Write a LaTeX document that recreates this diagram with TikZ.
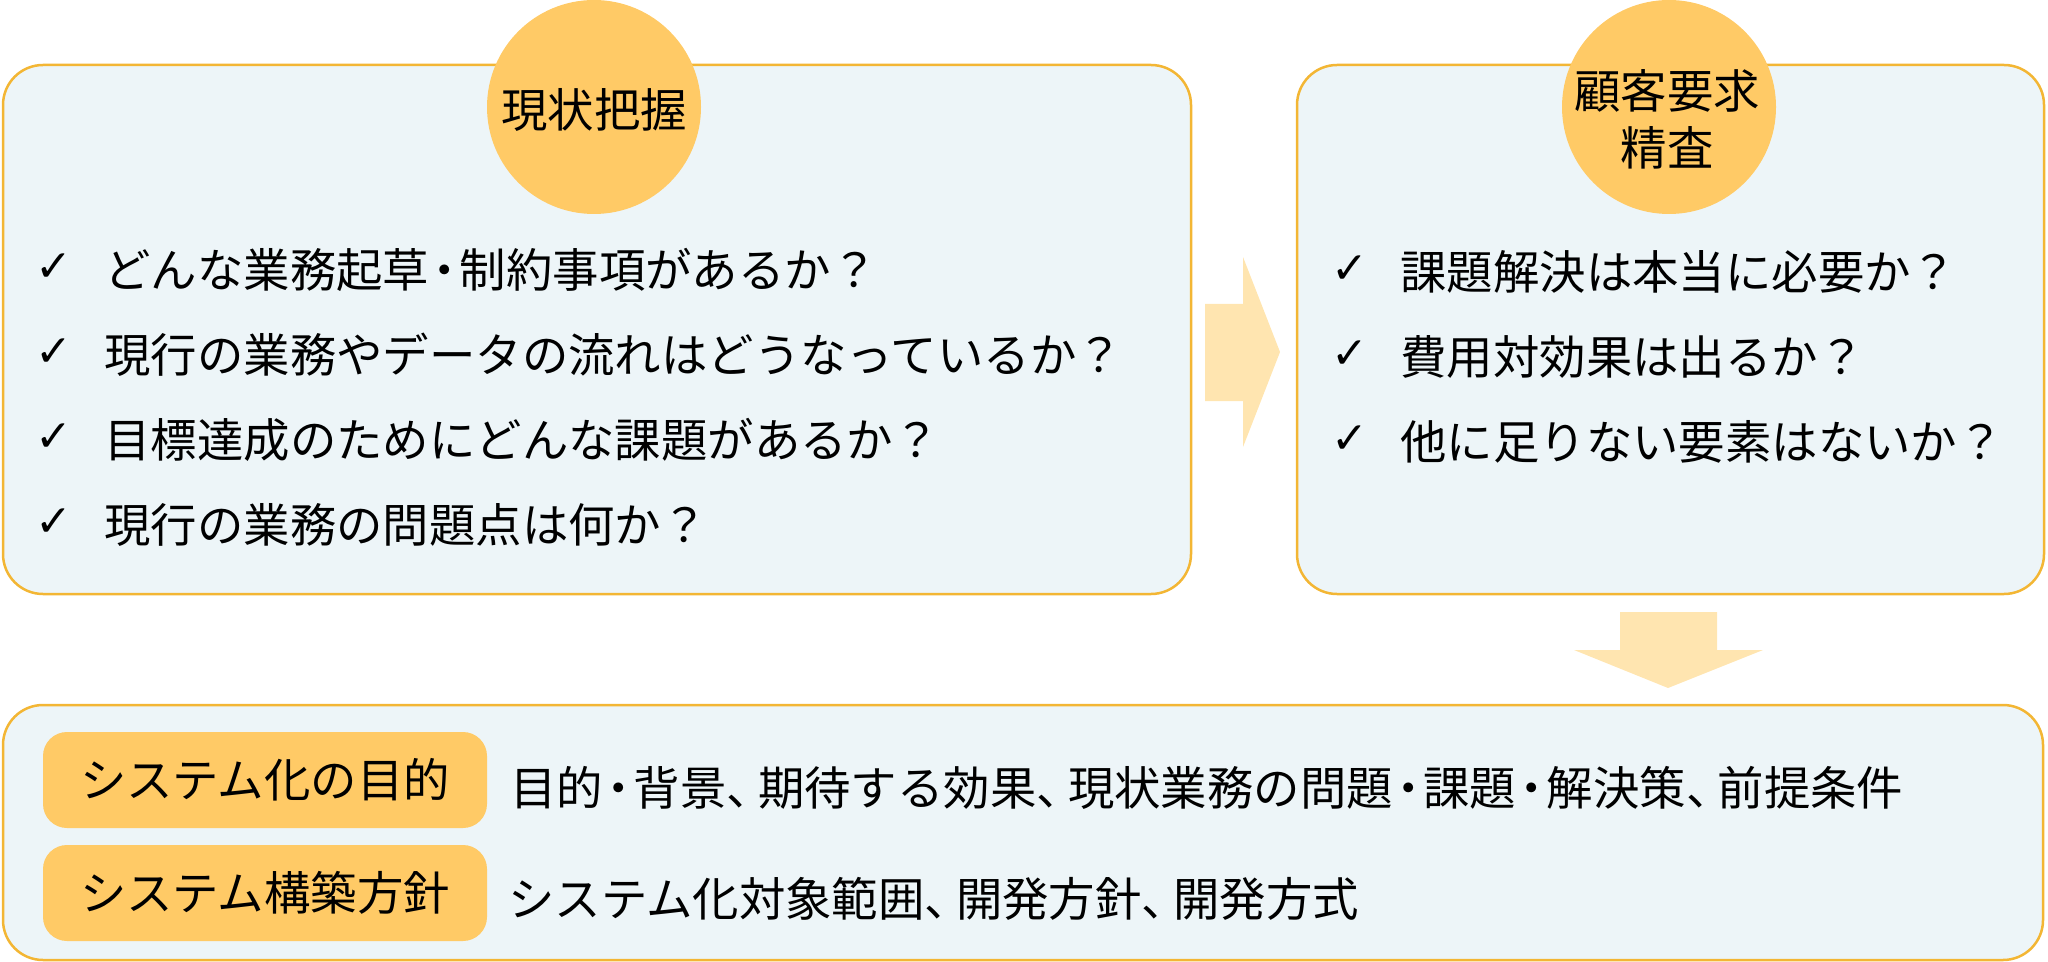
\documentclass[tikz,border=0pt]{standalone}
\usepackage{fontspec}
\setmainfont{Noto Sans CJK JP}
\newfontfamily\chk{DejaVu Sans}
\newcommand\mdot{\kern-0.17em・\kern-0.17em}
\newcommand\tcm{、\kern-0.32em}
\definecolor{panelc}{RGB}{237,245,248}
\definecolor{bordc}{RGB}{243,182,52}
\definecolor{circc}{RGB}{255,202,102}
\definecolor{arrc}{RGB}{255,229,176}
\begin{document}
\begin{tikzpicture}[x=0.5pt,y=-0.5pt,
  panel/.style={draw=bordc, fill=panelc, line width=1.25pt, rounded corners=20pt, inner sep=0pt},
  badge/.style={circle, fill=circc, minimum size=107pt, inner sep=0pt},
  tag/.style={fill=circc, rounded corners=12pt, minimum width=222pt, minimum height=48pt, inner sep=0pt, font=\fontsize{23.2}{28}\selectfont},
  item/.style={anchor=west, inner sep=0pt, font=\fontsize{23.2}{28}\selectfont},
  title/.style={inner sep=0pt, align=center, font=\fontsize{23.2}{28.5}\selectfont},
  tick/.style={inner sep=0pt, font=\chk\fontsize{22}{24}\selectfont},
  blockarrow/.style={fill=arrc}]
\useasboundingbox (0,0) rectangle (2048,962);
% panels
\node[panel, minimum width=594pt, minimum height=264.5pt] (left) at (597,329.5) {};
\node[panel, minimum width=373.5pt, minimum height=264.5pt] (right) at (1670.5,329.5) {};
\node[panel, minimum width=1020pt, minimum height=127.5pt] (bottom) at (1023,832.5) {};
% badges
\node[badge] (c1) at (594,107) {};
\node[title] (t1) at (594,110) {現状把握};
\node[badge] (c2) at (1669,107) {};
\node[title] (t2) at (1667,119) {顧客要求\\精査};
% left items
\node[tick] (k1) at (54,268) {✓};
\node[item] (l1) at (104,270) {どんな業務起草\mdot 制約事項があるか？};
\node[tick] (k2) at (54,353) {✓};
\node[item] (l2) at (104,355) {現行の業務やデータの流れはどうなっているか？};
\node[tick] (k3) at (54,438) {✓};
\node[item] (l3) at (104,440) {目標達成のためにどんな課題があるか？};
\node[tick] (k4) at (54,523) {✓};
\node[item] (l4) at (104,525) {現行の業務の問題点は何か？};
% right items
\node[tick] (r1k) at (1350,270) {✓};
\node[item] (r1) at (1400,272) {課題解決は本当に必要か？};
\node[tick] (r2k) at (1350,355) {✓};
\node[item] (r2) at (1400,357) {費用対効果は出るか？};
\node[tick] (r3k) at (1350,440) {✓};
\node[item] (r3) at (1400,442) {他に足りない要素はないか？};
% arrows
\fill[blockarrow] (1205,304) -- (1243,304) -- (1243,257) -- (1280,352) -- (1243,447) -- (1243,401) -- (1205,401) -- cycle;
\fill[blockarrow] (1620,612) -- (1717,612) -- (1717,650) -- (1763,650) -- (1668,688) -- (1574,650) -- (1620,650) -- cycle;
% bottom tags
\node[tag] (g1) at (265,780) {システム化の目的};
\node[item] (b1) at (510,788) {目的\mdot 背景\tcm 期待する効果\tcm 現状業務の問題\mdot 課題\mdot 解決策\tcm 前提条件};
\node[tag] (g2) at (265,893) {システム構築方針};
\node[item] (b2) at (508,899) {システム化対象範囲\tcm 開発方針\tcm 開発方式};
\end{tikzpicture}
\end{document}
